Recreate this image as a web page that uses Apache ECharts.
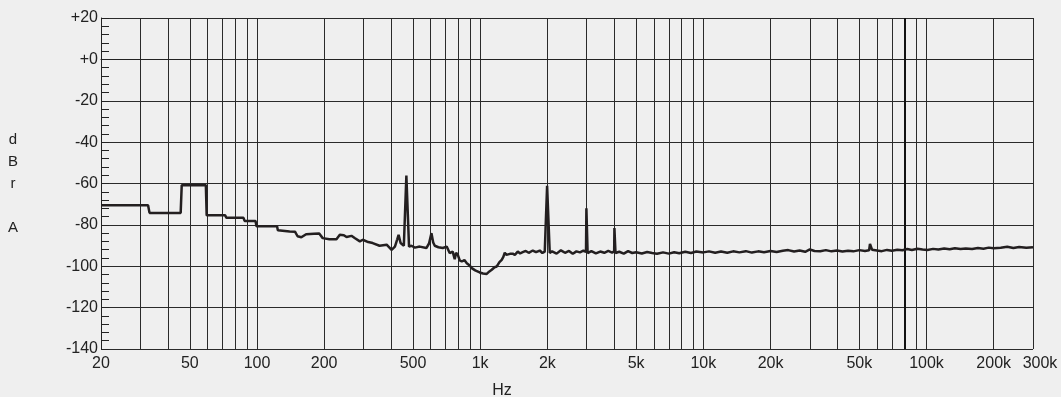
<!DOCTYPE html>
<html>
<head>
<meta charset="utf-8">
<script src="https://cdn.jsdelivr.net/npm/echarts@6/dist/echarts.min.js"></script>
<style>
html,body{margin:0;padding:0;background:#efefef;}
#c{width:1061px;height:397px;}
</style>
</head>
<body>
<div id="c"></div>
<script>
// Frequency (Hz) and level (dBr A)
var freqHz = [
  20, 32.5, 33, 45.5, 46, 59, 59.5, 72, 73, 87, 88, 98.5, 99.5, 123, 124, 140, 148,
  152, 158, 166, 180, 190, 197, 211, 227, 235, 245, 252, 265, 275, 289, 298, 315, 330,
  354, 381, 401, 415, 425, 431, 440, 455, 464, 467, 476, 480, 492, 510, 536, 574, 590,
  605, 616, 626, 650, 680, 708, 730, 753, 769, 780, 794, 810, 827, 850, 871, 895, 917,
  950, 995, 1030, 1070, 1100, 1127, 1160, 1187, 1220, 1249, 1270, 1289, 1310, 1329, 1360,
  1399, 1430, 1474, 1510, 1552, 1600, 1650, 1721, 1780, 1849, 1900, 1947, 1985, 1995, 2008,
  2050, 2100, 2200, 2300, 2400, 2500, 2600, 2700, 2800, 2900, 2980, 2992, 3008, 3030, 3150,
  3300, 3450, 3600, 3750, 3900, 3985, 3995, 4010, 4040, 4200, 4400, 4600, 4800, 5000, 5300,
  5600, 5900, 6200, 6600, 7000, 7400, 7800, 8300, 8800, 9300, 10000, 10600, 11300, 12000,
  12800, 13600, 14500, 15500, 16500, 17600, 18700, 20000, 21300, 22700, 24000, 25500, 27000,
  28600, 30000, 31500, 33400, 35400, 37500, 39700, 42000, 44500, 47000, 50000, 53000, 55300,
  55800, 56400, 57000, 60000, 63000, 66500, 70000, 74000, 78000, 82000, 86000, 91000, 96000,
  101000, 107000, 113000, 120000, 127000, 134000, 142000, 150000, 160000, 170000, 180000,
  190000, 200000, 215000, 230000, 245000, 260000, 280000, 300000
];
var levelDbr = [
  -70.5, -70.5, -74.2, -74.2, -60.8, -60.8, -75.4, -75.4, -76.6, -76.6, -78.1, -78.1, -80.7, -80.7, -82.6, -83.2, -83.3,
  -85.5, -86.0, -84.5, -84.3, -84.2, -86.4, -86.9, -86.9, -84.8, -85.0, -85.9, -85.3, -86.5, -88.0, -87.2, -88.3, -88.8,
  -90.1, -89.6, -92.1, -90.5, -87.0, -84.8, -88.8, -90.1, -90.3, -56.2, -56.2, -90.5, -90.1, -91.0, -90.5, -91.2, -89.0,
  -84.0, -88.5, -90.1, -90.8, -91.2, -90.5, -93.6, -92.9, -96.6, -93.5, -94.5, -97.2, -97.7, -97.0, -98.5, -99.5, -100.9,
  -102.0, -103.0, -103.5, -103.7, -102.5, -101.7, -100.5, -100.1, -98.0, -96.9, -95.5, -93.4, -94.5, -95.3, -94.0,
  -93.9, -94.5, -92.9, -93.8, -93.2, -92.6, -93.5, -92.4, -93.2, -92.4, -93.6, -92.9, -93.0, -61.1, -61.1,
  -93.6, -92.8, -93.9, -92.3, -93.5, -92.6, -94.0, -92.8, -93.3, -92.5, -93.0, -72.0, -72.0, -93.6, -92.7,
  -93.8, -92.9, -93.5, -92.6, -93.4, -92.8, -81.5, -81.5, -93.6, -93.0, -93.9, -92.7, -93.6, -93.2, -93.8,
  -93.1, -93.6, -94.0, -93.3, -93.9, -93.2, -93.7, -93.0, -93.6, -92.9, -93.3, -92.8, -93.5, -92.9,
  -93.5, -92.8, -93.3, -92.7, -93.4, -92.8, -93.2, -92.6, -93.1, -92.5, -92.2, -92.9, -92.4,
  -93.0, -91.9, -92.6, -92.7, -92.2, -92.8, -92.4, -92.9, -92.5, -92.8, -92.2, -92.6, -92.3,
  -89.2, -89.2, -92.0, -92.4, -92.7, -92.1, -92.5, -92.0, -92.3, -91.7, -92.1, -91.5, -91.9,
  -92.1, -91.6, -91.9, -91.4, -91.8, -91.3, -91.7, -91.4, -91.7, -91.2, -91.5, -91.0,
  -91.3, -91.1, -90.6, -91.2, -90.7, -91.1, -90.8, -91.0
];
var gridFreqs = [
  20, 30, 40, 50, 60, 70, 80, 90, 100, 200, 300, 400, 500, 600, 700, 800, 900, 1000,
  2000, 3000, 4000, 5000, 6000, 7000, 8000, 9000, 10000, 20000, 30000, 40000, 50000,
  60000, 70000, 80000, 90000, 100000, 200000, 300000
];
var labelFreqs = [20, 50, 100, 200, 500, 1000, 2000, 5000, 10000, 20000, 50000, 100000, 200000, 300000];
var markerFreqs = [80000];
var yMin = -140, yMax = 20, yStep = 20;

var points = freqHz.map(function (f, i) { return [f, levelDbr[i]]; });

var chart = echarts.init(document.getElementById('c'), null, {renderer: 'canvas'});
var ink = '#222';
chart.setOption({
  backgroundColor: '#efefef',
  animation: false,
  textStyle: {fontFamily: 'Liberation Sans, Arial, sans-serif'},
  grid: {left: 101, right: 28, top: 18, bottom: 48, outerBoundsMode: 'none', containLabel: false},
  xAxis: {
    type: 'log',
    logBase: 10,
    min: 20,
    max: 300000,
    name: 'Hz',
    nameLocation: 'middle',
    nameGap: 34,
    nameTextStyle: {color: ink, fontSize: 16, padding: [0, 130, 0, 0]},
    axisLine: {show: true, lineStyle: {color: ink, width: 1}},
    axisTick: {show: false, customValues: gridFreqs},
    splitLine: {show: true, lineStyle: {color: '#2a2a2a', width: 1}},
    minorSplitLine: {show: false},
    axisLabel: {
      customValues: labelFreqs,
      color: ink,
      fontSize: 16,
      margin: 7,
      formatter: function (v) {
        var s = v >= 1000 ? (Math.round(v / 1000) + 'k') : String(Math.round(v));
        return v >= 300000 ? '{r|' + s + '}' : s;
      },
      rich: {r: {color: ink, fontSize: 16, padding: [0, 0, 0, 14]}}
    }
  },
  yAxis: {
    type: 'value',
    min: yMin,
    max: yMax,
    interval: yStep,
    name: 'd\nB\nr\n\nA',
    nameLocation: 'middle',
    nameRotate: 0,
    nameGap: 88,
    nameTextStyle: {color: ink, fontSize: 15, lineHeight: 22, align: 'center', verticalAlign: 'middle'},
    axisLine: {show: true, lineStyle: {color: ink, width: 1}},
    axisTick: {show: true, inside: true, length: 8, lineStyle: {color: ink}},
    minorTick: {show: true, splitNumber: 5, length: 8, lineStyle: {color: ink}},
    splitLine: {show: true, lineStyle: {color: '#2a2a2a', width: 1}},
    axisLabel: {
      color: ink,
      fontSize: 16,
      margin: 3,
      formatter: function (v) { return v >= 0 ? '+' + v : String(v); }
    }
  },
  series: [{
    type: 'line',
    data: points,
    showSymbol: false,
    symbol: 'none',
    lineStyle: {color: '#231f20', width: 2.5},
    z: 5,
    markLine: {
      silent: true,
      symbol: 'none',
      label: {show: false},
      lineStyle: {color: '#111', width: 2, type: 'solid'},
      data: markerFreqs.map(function (f) { return {xAxis: f}; })
    }
  }]
});
</script>
</body>
</html>
